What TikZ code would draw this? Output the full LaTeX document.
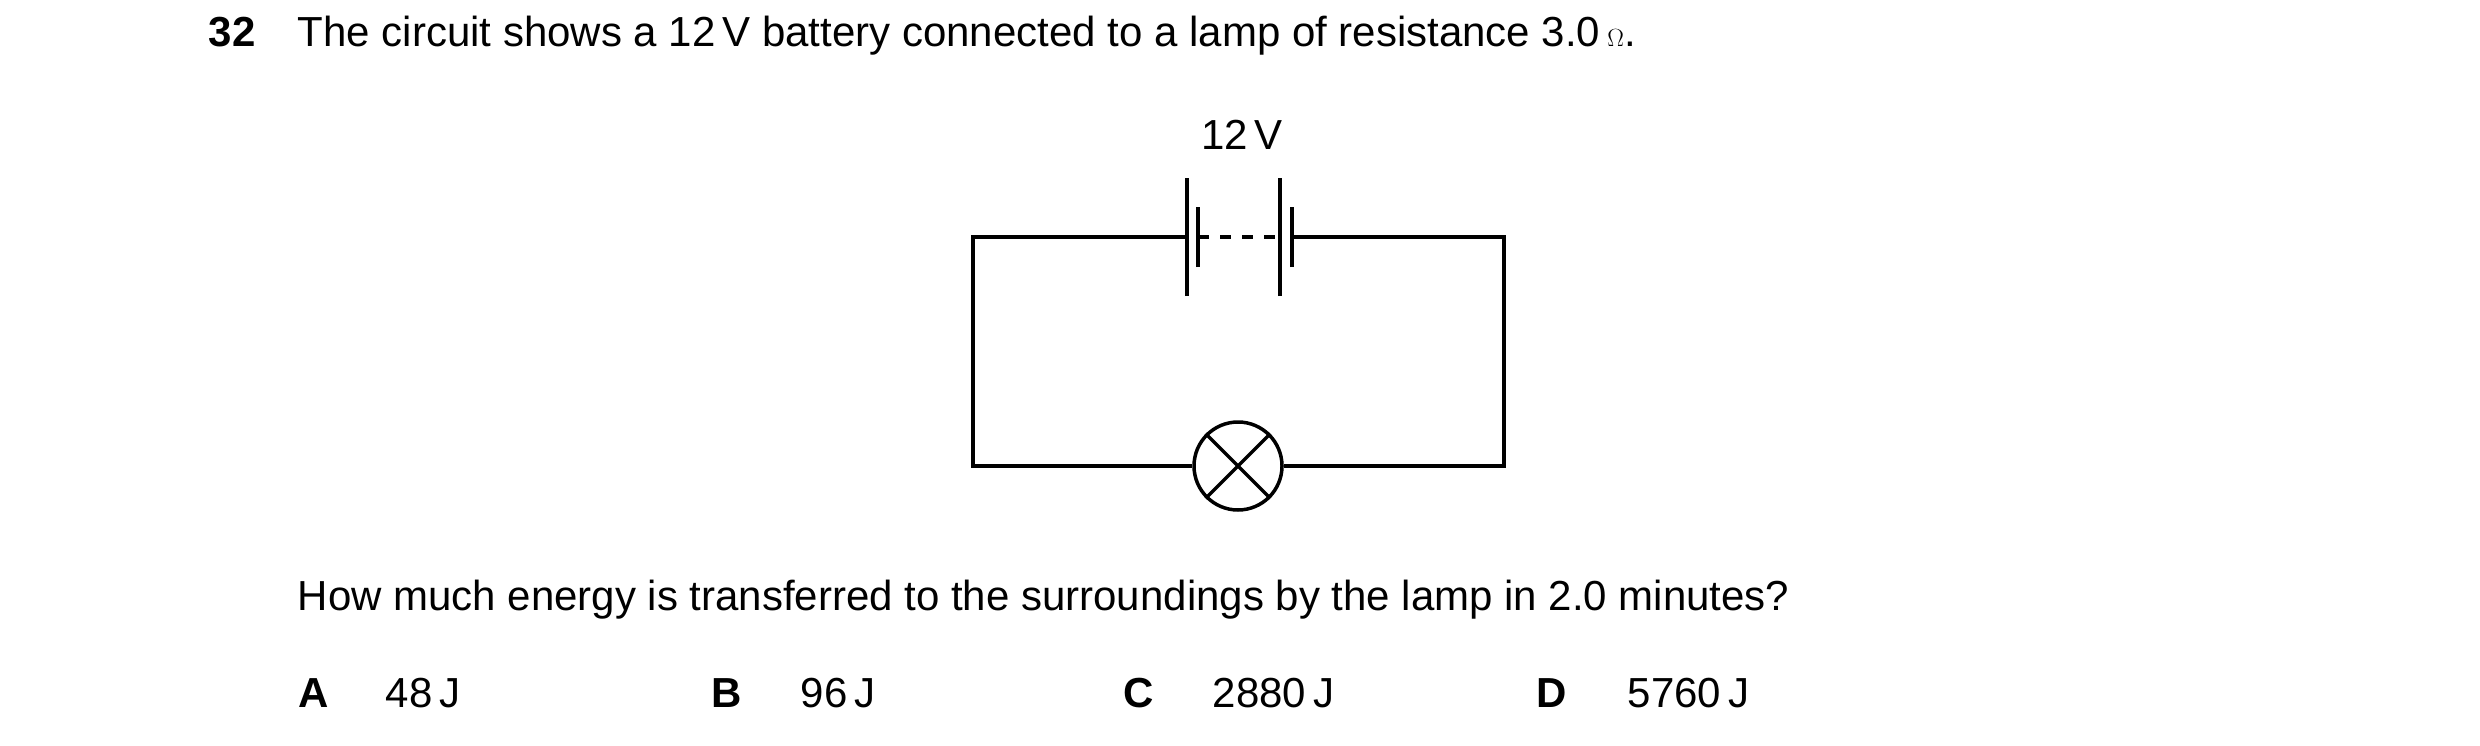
\documentclass[tikz,border=0pt]{standalone}
\usepackage{fontspec}
\setmainfont{Liberation Sans}
\begin{document}
\begin{tikzpicture}[x=1pt,y=-1pt,line width=3.5pt,
  txt/.style={anchor=base west,inner sep=0pt,font=\fontsize{42}{50}\selectfont},
  btxt/.style={txt,font=\fontsize{42}{50}\selectfont\bfseries}]
\useasboundingbox (0,0) rectangle (2480,746);
\node[btxt] (n) at (207,47) {32};
\node[txt] (t) at (296,47) {The circuit shows a 12\,V battery connected to a lamp of resistance 3.0\,$\Omega$.};
\node[txt,anchor=base] (v) at (1242,150) {12\,V};
% circuit
\coordinate (tl) at (973,237); \coordinate (tr) at (1504,237);
\coordinate (bl) at (973,466); \coordinate (br) at (1504,466);
\node[circle,draw,minimum size=88pt,inner sep=0pt] (L) at (1238,466) {};
\draw (L.45) -- (L.225) (L.135) -- (L.315);
\coordinate (p1) at (1187,237); \coordinate (s1) at (1198,237);
\coordinate (p2) at (1280,237); \coordinate (s2) at (1292,237);
\draw (p1) -- (tl) -- (bl) -- (L.west);
\draw (L.east) -- (br) -- (tr) -- (s2);
\draw ([yshift=-59pt]p1) -- ([yshift=59pt]p1);
\draw ([yshift=-30pt]s1) -- ([yshift=30pt]s1);
\draw ([yshift=-59pt]p2) -- ([yshift=59pt]p2);
\draw ([yshift=-30pt]s2) -- ([yshift=30pt]s2);
\draw[dash pattern=on 11pt off 11pt] (s1) -- (p2);
\node[txt] (q) at (296,610) {How much energy is transferred to the surroundings by the lamp in 2.0 minutes?};
\node[btxt] (A) at (297,707) {A}; \node[txt] (a) at (384,707) {48\,J};
\node[btxt] (B) at (710,707) {B}; \node[txt] (b) at (799,707) {96\,J};
\node[btxt] (C) at (1122,707) {C}; \node[txt] (c) at (1211,707) {2880\,J};
\node[btxt] (D) at (1535,707) {D}; \node[txt] (d) at (1626,707) {5760\,J};
\end{tikzpicture}
\end{document}
